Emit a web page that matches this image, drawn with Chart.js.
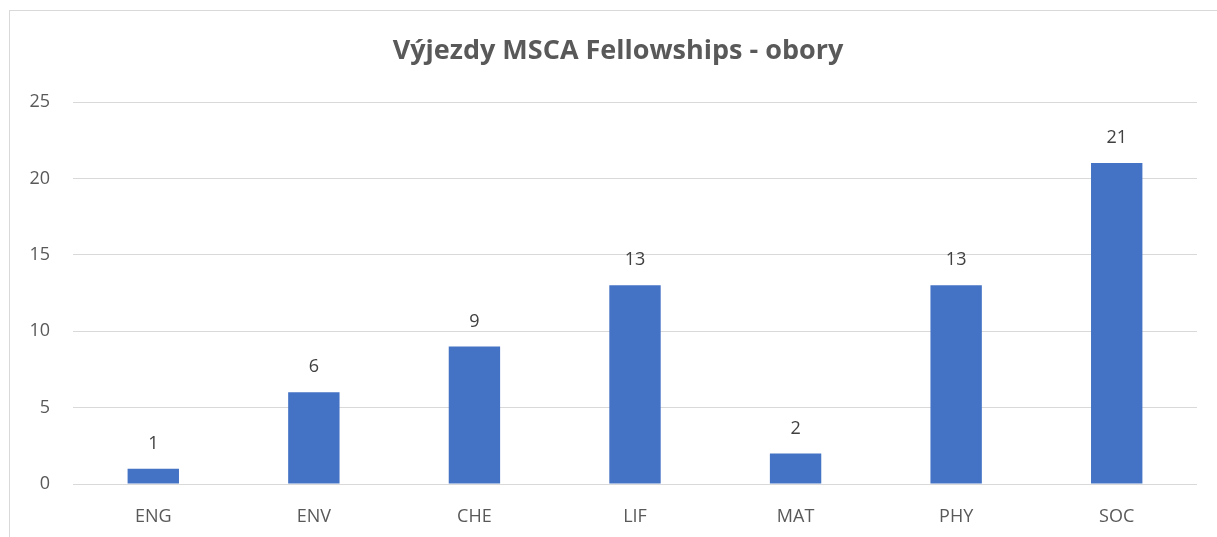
<!DOCTYPE html>
<html>
<head>
<meta charset="utf-8">
<script src="https://cdn.jsdelivr.net/npm/chart.js@4.4.1/dist/chart.umd.min.js"></script>
<style>
    body { margin: 0; background: #fff; overflow: hidden; }
    #frame { position: absolute; left: 9px; top: 10px; width: 1300px; height: 600px; border: 1px solid #d9d9d9; }
    #chart { position: absolute; left: 0; top: 0; }
</style>
</head>
<body>
<div id="frame"></div>
<canvas id="chart" width="1217" height="537"></canvas>
<script>
var chartTitle = 'Výjezdy MSCA Fellowships - obory';
var categories = ['ENG', 'ENV', 'CHE', 'LIF', 'MAT', 'PHY', 'SOC'];
var counts = [1, 6, 9, 13, 2, 13, 21];
var yTicks = [0, 5, 10, 15, 20, 25];

var fontFamily = '"Open Sans", "Liberation Sans", sans-serif';

// simple value labels above each bar + title centred on the full chart frame
var valueLabels = {
    id: 'valueLabels',
    afterDatasetsDraw: function (chart) {
        var ctx = chart.ctx;
        var meta = chart.getDatasetMeta(0);
        ctx.save();
        ctx.font = '18px ' + fontFamily;
        ctx.fillStyle = '#404040';
        ctx.textAlign = 'center';
        ctx.textBaseline = 'middle';
        meta.data.forEach(function (bar, i) {
            ctx.fillText(chart.data.datasets[0].data[i], bar.x, bar.y - 25);
        });

        // frame continues past the window, so the title sits right of canvas centre
        ctx.font = 'bold 27px ' + fontFamily;
        ctx.fillStyle = '#595959';
        ctx.fillText(chartTitle, (chart.chartArea.left + chart.chartArea.right) / 2 - 17, 51);
        ctx.restore();
    }
};

var ctx = document.getElementById('chart');
new Chart(ctx, {
    type: 'bar',
    data: {
        labels: categories,
        datasets: [{
            label: chartTitle,
            data: counts,
            backgroundColor: '#4472C4',
            borderColor: '#4472C4',
            categoryPercentage: 1,
            barPercentage: 0.32
        }]
    },
    plugins: [valueLabels],
    options: {
        responsive: false,
        animation: false,
        layout: { padding: { left: 0, right: 20, top: 102, bottom: 0 } },
        plugins: {
            legend: { display: false },
            tooltip: { enabled: false },
            title: { display: false }
        },
        scales: {
            x: {
                grid: { display: false },
                border: { display: false },
                ticks: {
                    color: '#595959',
                    font: { family: fontFamily, size: 18 },
                    padding: 14
                },
                afterFit: function (scale) { scale.height = 53; }
            },
            y: {
                min: 0,
                max: 25,
                afterBuildTicks: function (scale) {
                    scale.ticks = yTicks.map(function (v) { return { value: v }; });
                },
                grid: { color: '#d9d9d9', lineWidth: 1, drawTicks: false },
                border: { display: false },
                ticks: {
                    color: '#595959',
                    font: { family: fontFamily, size: 18 },
                    padding: 23
                },
                afterFit: function (scale) { scale.width = 73; }
            }
        }
    }
});
</script>
</body>
</html>
